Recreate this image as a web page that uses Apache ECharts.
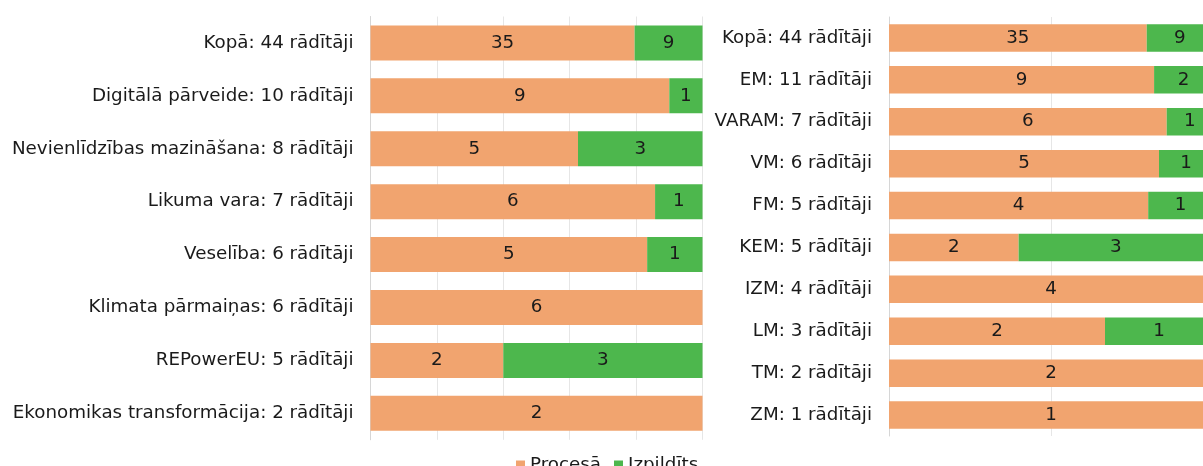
<!DOCTYPE html>
<html>
<head>
<meta charset="utf-8">
<script src="https://cdn.jsdelivr.net/npm/echarts@6/dist/echarts.min.js"></script>
<style>
  html, body { margin: 0; padding: 0; background: #fff; overflow: hidden; }
  #chart { width: 1220px; height: 466px; }
</style>
</head>
<body>
<div id="chart"></div>
<script>
'use strict';

const SERIES_NAMES = ['Procesā', 'Izpildīts'];
const SERIES_COLORS = ['#F1A46F', '#4DB74D'];

// left panel: priorities
const leftCategories = [
  'Kopā: 44 rādītāji',
  'Digitālā pārveide: 10 rādītāji',
  'Nevienlīdzības mazināšana: 8 rādītāji',
  'Likuma vara: 7 rādītāji',
  'Veselība: 6 rādītāji',
  'Klimata pārmaiņas: 6 rādītāji',
  'REPowerEU: 5 rādītāji',
  'Ekonomikas transformācija: 2 rādītāji'
];
const leftInProgress = [35, 9, 5, 6, 5, 6, 2, 2];
const leftDone = [9, 1, 3, 1, 1, 0, 3, 0];

// right panel: ministries
const rightCategories = [
  'Kopā: 44 rādītāji',
  'EM: 11 rādītāji',
  'VARAM: 7 rādītāji',
  'VM: 6 rādītāji',
  'FM: 5 rādītāji',
  'KEM: 5 rādītāji',
  'IZM: 4 rādītāji',
  'LM: 3 rādītāji',
  'TM: 2 rādītāji',
  'ZM: 1 rādītāji'
];
const rightInProgress = [35, 9, 6, 5, 4, 2, 4, 2, 2, 1];
const rightDone = [9, 2, 1, 1, 1, 3, 0, 1, 0, 0];

const FONT = '"DejaVu Sans", Verdana, sans-serif';
const FONT_SIZE = 18.3;

function toShare(values, others) {
  return values.map((v, i) => ({ value: v / (v + others[i]) * 100, count: v }));
}

function makeSeries(idx, name, data, color, barWidth) {
  return {
    name: name,
    type: 'bar',
    stack: 'g' + idx,
    xAxisIndex: idx,
    yAxisIndex: idx,
    barWidth: barWidth,
    data: data,
    itemStyle: { color: color },
    label: {
      show: true,
      position: 'inside',
      color: '#1a1a1a',
      fontFamily: FONT,
      fontSize: FONT_SIZE,
      formatter: p => p.data.count ? String(p.data.count) : ''
    },
    emphasis: { disabled: true }
  };
}

function valueAxis(idx, interval) {
  return {
    type: 'value',
    gridIndex: idx,
    min: 0,
    max: 100,
    interval: interval,
    axisLine: { show: false },
    axisTick: { show: false },
    axisLabel: { show: false },
    splitLine: { show: true, lineStyle: { color: '#e6e6e6', width: 1 } }
  };
}

function categoryAxis(idx, cats) {
  return {
    type: 'category',
    gridIndex: idx,
    data: cats,
    inverse: true,
    axisLine: { show: true, lineStyle: { color: '#d6d6d6', width: 1 } },
    axisTick: { show: false },
    axisLabel: { color: '#1a1a1a', fontFamily: FONT, fontSize: FONT_SIZE, margin: 17 }
  };
}

const chart = echarts.init(document.getElementById('chart'));
chart.setOption({
  animation: false,
  color: SERIES_COLORS,
  legend: {
    data: SERIES_NAMES,
    left: 511,
    top: 451,
    itemWidth: 9,
    itemHeight: 9,
    itemGap: 13,
    itemTextGap: 6,
    icon: 'rect',
    textStyle: { color: '#1a1a1a', fontFamily: FONT, fontSize: FONT_SIZE }
  },
  grid: [
    { left: 370.5, top: 16.5, width: 332, height: 423.3 },
    { left: 889, top: 17, width: 324, height: 419 }
  ],
  xAxis: [valueAxis(0, 20), valueAxis(1, 50)],
  yAxis: [categoryAxis(0, leftCategories), categoryAxis(1, rightCategories)],
  series: [
    makeSeries(0, SERIES_NAMES[0], toShare(leftInProgress, leftDone), SERIES_COLORS[0], 35),
    makeSeries(0, SERIES_NAMES[1], toShare(leftDone, leftInProgress), SERIES_COLORS[1], 35),
    makeSeries(1, SERIES_NAMES[0], toShare(rightInProgress, rightDone), SERIES_COLORS[0], 27.5),
    makeSeries(1, SERIES_NAMES[1], toShare(rightDone, rightInProgress), SERIES_COLORS[1], 27.5)
  ]
});
</script>
</body>
</html>
